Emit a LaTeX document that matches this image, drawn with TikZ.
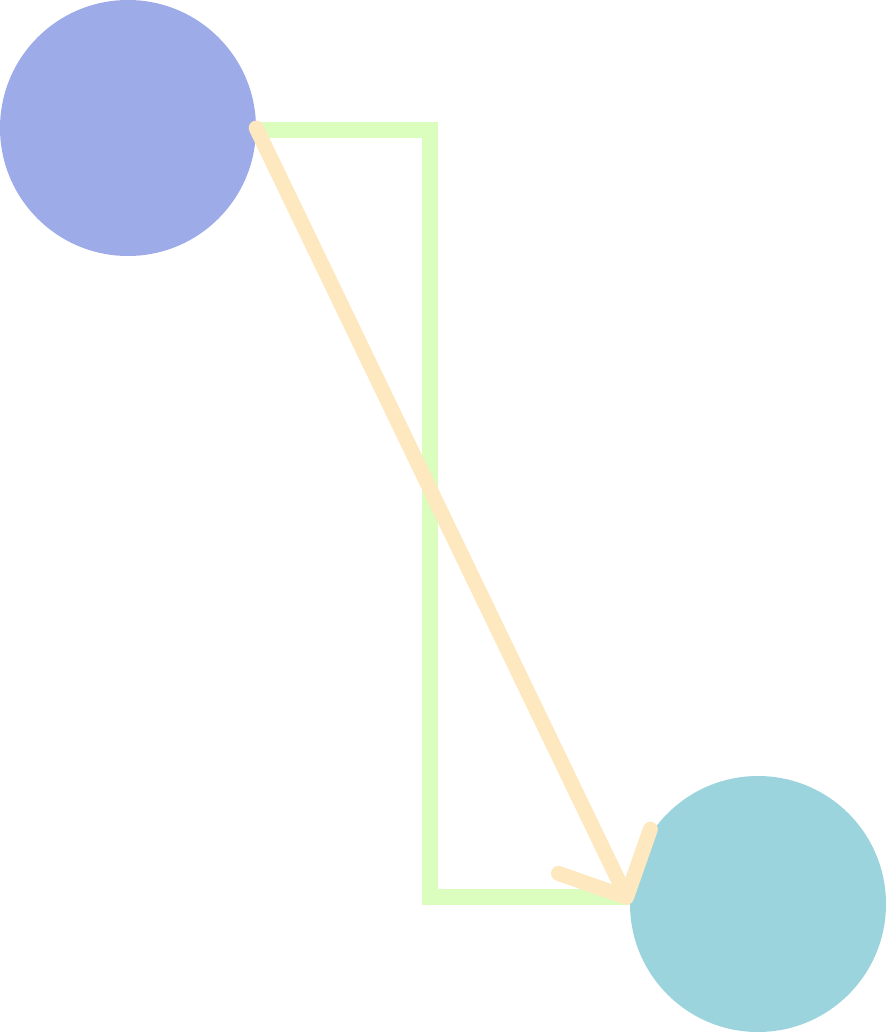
\documentclass[tikz,border=0pt]{standalone}
\usetikzlibrary{arrows.meta}
\definecolor{srcblue}{HTML}{9DABE8}
\definecolor{dstteal}{HTML}{9CD4DE}
\definecolor{pathgreen}{HTML}{DBFDBE}
\definecolor{linkcream}{HTML}{FDE8C0}
\begin{document}
\begin{tikzpicture}[x=1pt,y=-1pt,blob/.style={circle,minimum size=256pt,inner sep=0pt}]
\useasboundingbox (0,0) rectangle (886,1032);
\node (src) [blob,fill=srcblue] at (128,128) {};
\node (dst) [blob,fill=dstteal] at (758,904) {};
\coordinate (bend) at (430,0);
\draw[pathgreen,line width=16pt] (src.-1.3) -- (src.-1.3 -| bend) |- (dst.177);
\draw[linkcream,line width=15pt,line cap=round,-{Straight Barb[length=51pt,width=102pt,round]}] (src.east) -- (dst.west);
\end{tikzpicture}
\end{document}
